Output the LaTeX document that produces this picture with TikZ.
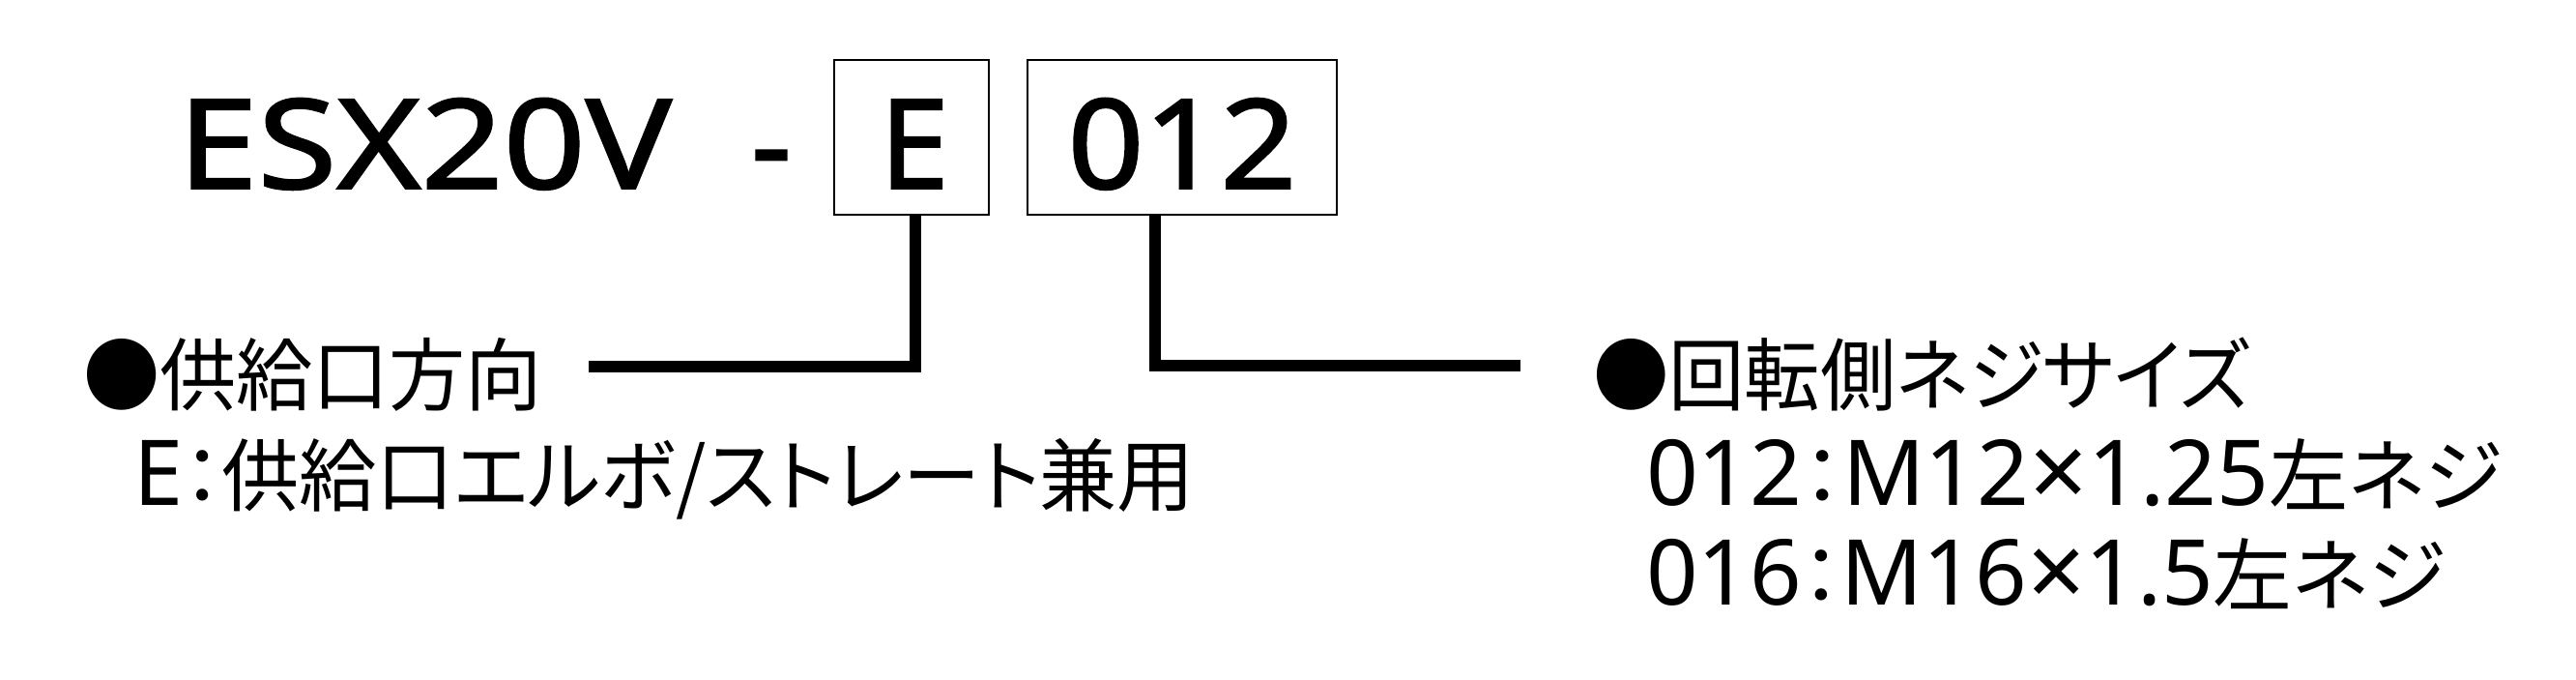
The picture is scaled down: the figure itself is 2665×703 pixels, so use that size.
\documentclass[tikz,border=0pt]{standalone}
\usepackage{graphicx}
\usepackage{fontspec}
\setmainfont{Noto Sans CJK JP}
\newfontfamily\jpfont[RawFeature={+palt}]{Noto Sans CJK JP}
\newfontfamily\latfont{Noto Sans}
\newfontfamily\bigfont[FakeBold=1.5]{Noto Sans}
\newcommand\latn[1]{{\latfont\fontsize{94}{94}\selectfont #1}}
\newcommand\mult{{\latfont\fontsize{106}{106}\selectfont\raisebox{-3pt}{×}}}
\newsavebox\fitbox
\newcommand\fitto[2]{\sbox\fitbox{#2}\pgfmathsetmacro\fitratio{#1/\the\wd\fitbox}\scalebox{\fitratio}[1]{\usebox\fitbox}}
\begin{document}
\begin{tikzpicture}[x=1pt,y=-1pt,
  lbl/.style={inner sep=0pt,outer sep=0pt,anchor=base west,font=\jpfont\fontsize{82}{82}\selectfont},
  big/.style={inner sep=0pt,outer sep=0pt,font=\bigfont\fontsize{129}{129}\selectfont},
  codebox/.style={draw,line width=2.5pt,inner sep=0pt,minimum height=160pt},
  lead/.style={line width=12pt,line join=miter,line cap=butt}]
\fill[white] (0,0) rectangle (2665,703);
\useasboundingbox (0,0) rectangle (2665,703);
% code boxes
\node[codebox,minimum width=160pt] (boxE) at (943,142) {};
\node[codebox,minimum width=320pt] (boxN) at (1223,142) {};
% code text
\node[big,anchor=base west] (model) at (184,195) {\fitto{511}{ESX20V}};
\node[big,anchor=base] (dash) at (798,195) {-};
\node[big,anchor=base] (codeE) at (946,195) {E};
\node[big,anchor=base] (codeN) at (1223,195) {\fitto{237}{012}};
% labels left
\node[lbl] (supply) at (86,418) {\fitto{475}{●供給口方向}};
\node[lbl] (supplyE) at (138,522) {\fitto{1098}{\latn{E}：供給口エルボ/ストレート兼用}};
% labels right
\node[lbl] (thread) at (1648,418) {\fitto{679}{●回転側ネジサイズ}};
\node[lbl] (thread12) at (1703,522) {\fitto{886}{\latn{012}：\latn{M12}\mult\latn{1.25}左ネジ}};
\node[lbl] (thread16) at (1703,625) {\fitto{827}{\latn{016}：\latn{M16}\mult\latn{1.5}左ネジ}};
% connectors
\coordinate (endE) at (609,378.5);
\coordinate (endN) at (1573,377.5);
\draw[lead] ([xshift=3.5pt]boxE.south) |- (endE);
\draw[lead] ([xshift=-28pt]boxN.south) |- (endN);
\end{tikzpicture}
\end{document}
